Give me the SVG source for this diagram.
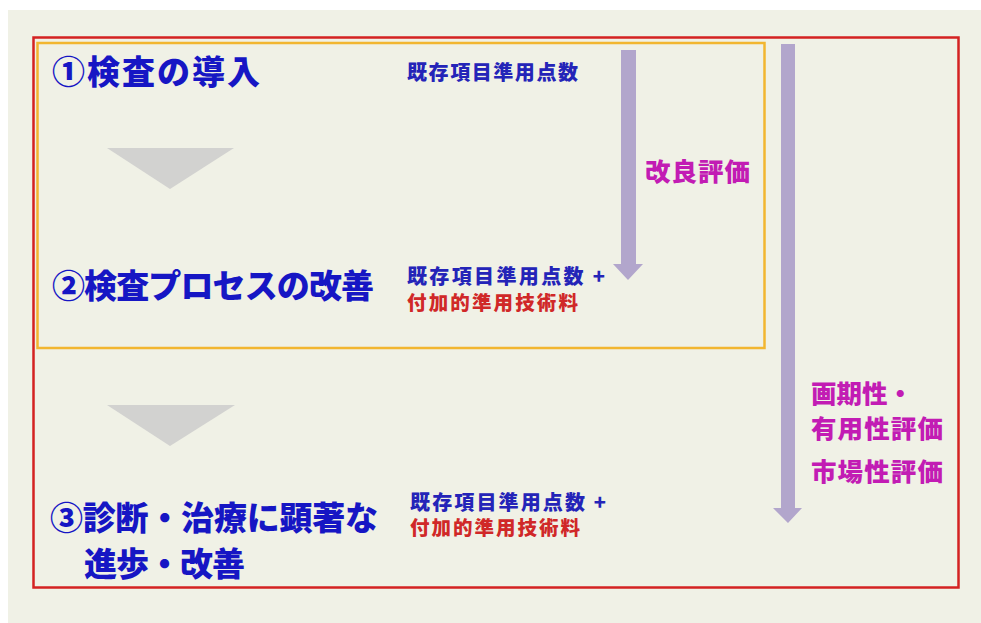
<svg xmlns="http://www.w3.org/2000/svg" width="981" height="623" viewBox="0 0 981 623">
<style>
.main{font-family:"Noto Sans CJK JP","Noto Sans CJK SC",sans-serif;font-weight:900;font-size:33px;fill:#1616c4}
.pts{font-family:"Noto Sans CJK JP","Noto Sans CJK SC",sans-serif;font-weight:900;font-size:20px;fill:#2424b8}
.tech{font-family:"Noto Sans CJK JP","Noto Sans CJK SC",sans-serif;font-weight:900;font-size:19.5px;fill:#d02828}
.eval{font-family:"Noto Sans CJK JP","Noto Sans CJK SC",sans-serif;font-weight:900;font-size:25.5px;fill:#c21cb4}
.tri{fill:#d2d2d0}
.arr{fill:#b2a6cc}
</style>
<rect x="0" y="0" width="981" height="623" fill="#ffffff"/>
<rect x="8" y="10" width="973" height="613" fill="#f0f1e6"/>
<g id="frame-outer">
<rect x="33.5" y="37.5" width="925" height="550" fill="none" stroke="#d42222" stroke-width="2.5"/>
</g>
<g id="frame-inner">
<rect x="37.5" y="43" width="727" height="305" fill="none" stroke="#f2b630" stroke-width="2.5"/>
</g>
<g id="step1">
<text class="main" x="52" y="84" textLength="208">①検査の導入</text>
<text class="pts" x="407" y="80" textLength="171">既存項目準用点数</text>
</g>
<g id="step2">
<text class="main" x="52" y="298" textLength="322">②検査プロセスの改善</text>
<text class="pts" x="407" y="284" textLength="198">既存項目準用点数 +</text>
<text class="tech" x="407" y="310" textLength="171">付加的準用技術料</text>
</g>
<g id="step3">
<text class="main" x="50" y="530" textLength="328">③診断・治療に顕著な</text>
<text class="main" x="84" y="576" textLength="161">進歩・改善</text>
<text class="pts" x="410" y="510" textLength="196">既存項目準用点数 +</text>
<text class="tech" x="410" y="535" textLength="170">付加的準用技術料</text>
</g>
<g id="connectors">
<polygon class="tri" points="107,148 234,148 170,189"/>
<polygon class="tri" points="107,405 235,405 170,446"/>
<path class="arr" d="M621,50 H636 V264 H643 L628,280 L613,264 H621 Z"/>
<path class="arr" d="M781,44 H795 V508 H802 L788,523 L773,508 H781 Z"/>
</g>
<g id="eval-labels">
<text class="eval" x="645" y="181" textLength="105">改良評価</text>
<text class="eval" x="811" y="403">画期性・</text>
<text class="eval" x="811" y="438" textLength="132">有用性評価</text>
<text class="eval" x="811" y="481" textLength="132">市場性評価</text>
</g>
</svg>
